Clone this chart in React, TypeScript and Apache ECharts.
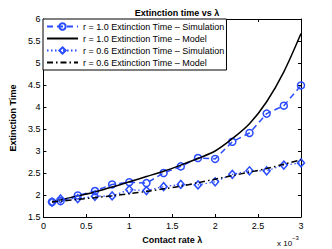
import React, { useEffect, useRef } from "react";
import * as echarts from "echarts";

// contact rate, in units of 1e-3
const simX = [0.1, 0.2, 0.4, 0.6, 0.8, 1.0, 1.2, 1.4, 1.6, 1.8, 2.0, 2.2, 2.4, 2.6, 2.8, 3.0];
const simR10 = [1.84, 1.86, 1.99, 2.09, 2.24, 2.29, 2.27, 2.5, 2.65, 2.84, 2.82, 3.21, 3.41, 3.85, 4.03, 4.49];
const simR06 = [1.84, 1.91, 1.92, 1.97, 1.98, 2.12, 2.1, 2.19, 2.24, 2.23, 2.3, 2.47, 2.55, 2.55, 2.68, 2.73];
const modelX = [0.1, 0.2, 0.4, 0.6, 0.8, 1.0, 1.2, 1.4, 1.6, 1.8, 2.0, 2.2, 2.4, 2.6, 2.8, 3.0];
const modelR10 = [1.85, 1.89, 1.98, 2.07, 2.18, 2.3, 2.42, 2.54, 2.68, 2.83, 3.0, 3.28, 3.62, 4.12, 4.8, 5.67];
const modelR06 = [1.84, 1.86, 1.9, 1.94, 1.98, 2.03, 2.08, 2.14, 2.2, 2.28, 2.36, 2.44, 2.52, 2.6, 2.7, 2.8];
const seriesNames = [
  "r = 1.0 Extinction Time \u2013 Simulation",
  "r = 1.0 Extinction Time \u2013 Model",
  "r = 0.6 Extinction Time \u2013 Simulation",
  "r = 0.6 Extinction Time \u2013 Model",
];

const FONT = "Liberation Sans, Arial, Helvetica, sans-serif";
const BLUE = "#2a4cff";

const pairs = (xs: number[], ys: number[]) => xs.map((x, i) => [x, ys[i]]);

export default function App() {
  const ref = useRef<HTMLDivElement>(null);
  useEffect(() => {
    if (!ref.current) return;
    const chart = echarts.init(ref.current, null, { renderer: "svg" });
    const axisCommon = {
      axisLine: { show: true, onZero: false, lineStyle: { color: "#000", width: 1 } },
      axisTick: { show: true, inside: true, length: 3, lineStyle: { color: "#000" } },
      splitLine: { show: false },
    };
    chart.setOption({
      animation: false,
      backgroundColor: "#fff",
      textStyle: { fontFamily: FONT },
      title: {
        text: "Extinction time vs \u03bb",
        left: 172,
        textAlign: "center",
        top: 3,
        textStyle: { fontFamily: FONT, fontSize: 9, fontWeight: "bold", color: "#000" },
      },
      grid: { left: 43, right: 31, top: 19, bottom: 28, containLabel: false },
      xAxis: [
        {
          type: "value",
          min: 0,
          max: 3,
          interval: 0.5,
          ...axisCommon,
          axisLabel: { fontSize: 9, color: "#000", margin: 4, fontFamily: FONT },
          name: "Contact rate \u03bb",
          nameLocation: "middle",
          nameGap: 18,
          nameTextStyle: { fontSize: 9, fontWeight: "bold", color: "#000", fontFamily: FONT },
        },
        {
          type: "value",
          position: "top",
          min: 0,
          max: 3,
          interval: 0.5,
          ...axisCommon,
          axisLabel: { show: false },
        },
      ],
      yAxis: [
        {
          type: "value",
          min: 1.5,
          max: 6,
          interval: 0.5,
          ...axisCommon,
          axisLabel: { fontSize: 9, color: "#000", margin: 3, fontFamily: FONT },
          name: "Extinction Time",
          nameLocation: "middle",
          nameGap: 17,
          nameTextStyle: { fontSize: 9, fontWeight: "bold", color: "#000", fontFamily: FONT },
        },
        {
          type: "value",
          position: "right",
          min: 1.5,
          max: 6,
          interval: 0.5,
          ...axisCommon,
          axisLabel: { show: false },
        },
      ],
      legend: {
        orient: "vertical",
        left: 43,
        top: 19,
        padding: [3, 2, 3, 3],
        itemWidth: 31,
        itemHeight: 8,
        itemGap: 3,
        backgroundColor: "#fff",
        borderColor: "#000",
        borderWidth: 1,
        borderRadius: 0,
        textStyle: { fontSize: 9, color: "#000", fontFamily: FONT },
        data: [
          { name: seriesNames[0] },
          { name: seriesNames[1], itemStyle: { opacity: 0 } },
          { name: seriesNames[2] },
          { name: seriesNames[3], itemStyle: { opacity: 0 } },
        ],
      },
      series: [
        {
          name: seriesNames[0],
          type: "line",
          data: pairs(simX, simR10),
          symbol: "circle",
          symbolSize: 7,
          showAllSymbol: true,
          itemStyle: { color: "rgba(255,255,255,0)", borderColor: BLUE, borderWidth: 1.5 },
          lineStyle: { color: BLUE, width: 1.5, type: [6, 4] },
          z: 3,
        },
        {
          name: seriesNames[1],
          type: "line",
          data: pairs(modelX, modelR10),
          symbol: "none",
          smooth: 0.3,
          itemStyle: { color: "#000" },
          lineStyle: { color: "#000", width: 1.5, type: "solid" },
          z: 4,
        },
        {
          name: seriesNames[2],
          type: "line",
          data: pairs(simX, simR06),
          symbol: "diamond",
          symbolSize: [7, 8],
          showAllSymbol: true,
          itemStyle: { color: "rgba(255,255,255,0)", borderColor: BLUE, borderWidth: 1.5 },
          lineStyle: { color: BLUE, width: 1.2, type: [1.5, 2.5] },
          z: 5,
        },
        {
          name: seriesNames[3],
          type: "line",
          data: pairs(modelX, modelR06),
          symbol: "none",
          smooth: 0.3,
          itemStyle: { color: "#000" },
          lineStyle: { color: "#000", width: 1.5, type: [6, 3, 1.5, 3] },
          z: 6,
        },
      ],
      graphic: [
        {
          type: "text",
          left: 277,
          top: 235,
          style: {
            text: "{a|x 10}{b|\u22123}",
            rich: {
              a: { fontSize: 8, fontFamily: FONT, fill: "#000", padding: [4, 0, 0, 0] },
              b: { fontSize: 6, fontFamily: FONT, fill: "#000", verticalAlign: "top" },
            },
          },
        },
      ],
    });
    return () => chart.dispose();
  }, []);
  return <div ref={ref} style={{ width: 332, height: 249, position: "absolute", left: 0, top: 0 }} />;
}
